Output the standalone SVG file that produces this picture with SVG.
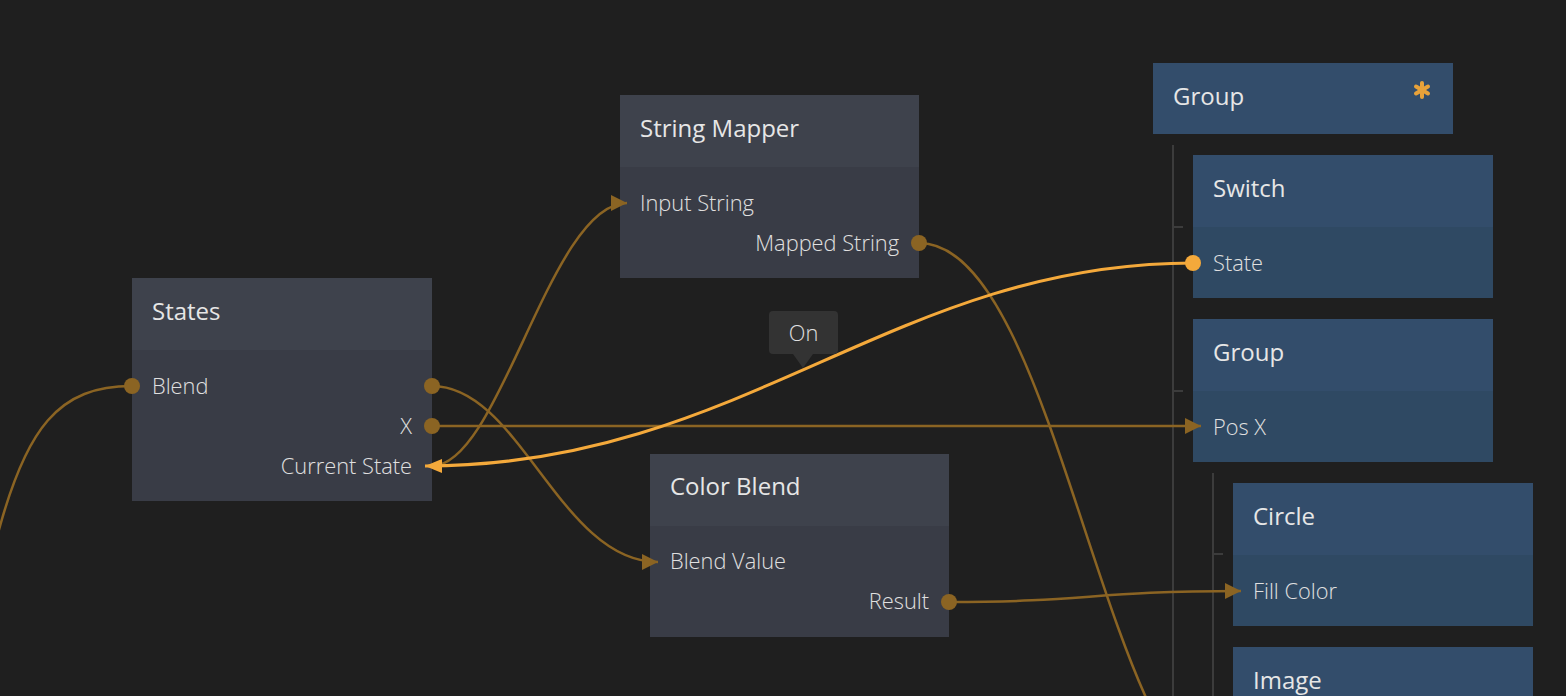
<svg xmlns="http://www.w3.org/2000/svg" width="1566" height="696" viewBox="0 0 1566 696">
<defs>
<style>
.bg{fill:#1f1f1f}
.gh{fill:#3e424c}
.gb{fill:#393c46}
.bh{fill:#334d6b}
.bb{fill:#2f4963}
.title{font-family:"Open Sans","Noto Sans",sans-serif;font-size:24px;fill:#e6e6e6}
.port{font-family:"Open Sans","Noto Sans",sans-serif;font-size:21.8px;font-weight:300;fill:#e0e0e0}
.r{text-anchor:end}
.wire{fill:none;stroke:#8b6423;stroke-width:2.5}
.hot{fill:none;stroke:#f4a93b;stroke-width:3}
.dot{fill:#8b6423}
.hotdot{fill:#f4a93b}
.tree{stroke:#3c3c3c;stroke-width:2;fill:none}
</style>
<marker id="arr" viewBox="0 0 16 16" refX="16" refY="8" markerWidth="16" markerHeight="16" markerUnits="userSpaceOnUse" orient="auto">
<path d="M0,0 L16,8 L0,16 Z" fill="#8b6423"/>
</marker>
<marker id="arrHot" viewBox="0 0 17 14" refX="17" refY="7" markerWidth="17" markerHeight="14" markerUnits="userSpaceOnUse" orient="auto">
<path d="M0,0 L17,7 L0,14 Z" fill="#f4a93b"/>
</marker>
</defs>
<rect class="bg" x="0" y="0" width="1566" height="696"/>

<g id="tree-lines">
<path class="tree" d="M1173,145 V696 M1173,227 H1183 M1173,391 H1183"/>
<path class="tree" d="M1213,473 V696 M1213,554 H1223"/>
</g>

<g id="node-states">
<rect class="gh" x="132" y="278" width="300" height="72"/>
<rect class="gb" x="132" y="350" width="300" height="151"/>
<text class="title" x="152" y="320">States</text>
<text class="port" x="152" y="394">Blend</text>
<text class="port r" x="412" y="434">X</text>
<text class="port r" x="412" y="474">Current State</text>
</g>

<g id="node-string-mapper">
<rect class="gh" x="620" y="95" width="299" height="72"/>
<rect class="gb" x="620" y="167" width="299" height="111"/>
<text class="title" x="640" y="137">String Mapper</text>
<text class="port" x="640" y="211">Input String</text>
<text class="port r" x="899" y="251">Mapped String</text>
</g>

<g id="node-color-blend">
<rect class="gh" x="650" y="454" width="299" height="72"/>
<rect class="gb" x="650" y="526" width="299" height="111"/>
<text class="title" x="670" y="495">Color Blend</text>
<text class="port" x="670" y="569">Blend Value</text>
<text class="port r" x="929" y="609">Result</text>
</g>

<g id="node-group-root">
<rect class="bh" x="1153" y="63" width="300" height="71"/>
<text class="title" x="1173" y="105">Group</text>
<g stroke="#e8a23a" stroke-width="4" stroke-linecap="round">
<line x1="1422" y1="83" x2="1422" y2="97"/>
<line x1="1416" y1="86.5" x2="1428" y2="93.5"/>
<line x1="1416" y1="93.5" x2="1428" y2="86.5"/>
</g>
</g>

<g id="node-switch">
<rect class="bh" x="1193" y="155" width="300" height="72"/>
<rect class="bb" x="1193" y="227" width="300" height="71"/>
<text class="title" x="1213" y="197">Switch</text>
<text class="port" x="1213" y="271">State</text>
</g>

<g id="node-group">
<rect class="bh" x="1193" y="319" width="300" height="72"/>
<rect class="bb" x="1193" y="391" width="300" height="71"/>
<text class="title" x="1213" y="361">Group</text>
<text class="port" x="1213" y="435">Pos X</text>
</g>

<g id="node-circle">
<rect class="bh" x="1233" y="483" width="300" height="72"/>
<rect class="bb" x="1233" y="555" width="300" height="71"/>
<text class="title" x="1253" y="525">Circle</text>
<text class="port" x="1253" y="599">Fill Color</text>
</g>

<g id="node-image">
<rect class="bh" x="1233" y="647" width="300" height="72"/>
<text class="title" x="1253" y="689">Image</text>
</g>

<g id="connectors">
<path class="wire" d="M-5,545 C25,425 60,386 132,386"/>
<path class="wire" d="M432,386 C520,386 560,562 658,562" marker-end="url(#arr)"/>
<path class="wire" d="M432,426 H1201" marker-end="url(#arr)"/>
<path class="wire" d="M432,466 C500,466 550,203 627,203" marker-end="url(#arr)"/>
<path class="wire" d="M949,602 C1090,602 1090,591 1241,591" marker-end="url(#arr)"/>
<path class="wire" d="M919,243 C1060,243 1106,800 1240,800"/>
<path class="hot" d="M1193,263 C893,263 742,466 425,466" marker-end="url(#arrHot)"/>
<circle class="dot" cx="132" cy="386" r="8"/>
<circle class="dot" cx="432" cy="386" r="8"/>
<circle class="dot" cx="432" cy="426" r="8"/>
<circle class="dot" cx="919" cy="243" r="8"/>
<circle class="dot" cx="949" cy="602" r="8"/>
<circle class="hotdot" cx="1193" cy="263" r="8"/>
</g>

<g id="tooltip-on">
<rect x="769" y="311" width="69" height="43" rx="4" fill="#333333"/>
<path d="M793,354 L813,354 L803,368 Z" fill="#333333"/>
<text class="port" x="803.5" y="341" text-anchor="middle" fill="#d6d6d6">On</text>
</g>
</svg>
